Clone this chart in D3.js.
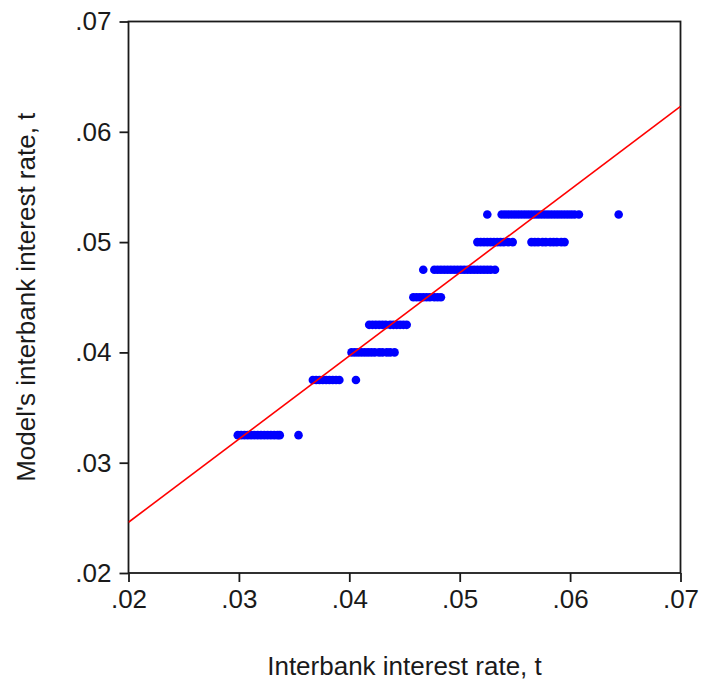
<!DOCTYPE html>
<html>
<head>
<meta charset="utf-8">
<script src="https://cdn.jsdelivr.net/npm/d3@7"></script>
<style>
  body { margin: 0; background: #fff; }
  text { font-family: "Liberation Sans", Arial, sans-serif; fill: #1a1a1a; }
</style>
</head>
<body>
<div id="chart"></div>
<script>
// axis ticks
var tickValues = [0.02, 0.03, 0.04, 0.05, 0.06, 0.07];
var tickLabels = [".02", ".03", ".04", ".05", ".06", ".07"];

// model rate levels (y) and the actual rates (x) seen at each level
var levels = [0.0325, 0.0375, 0.04, 0.0425, 0.045, 0.0475, 0.05, 0.0525];
var x0325 = [0.0299, 0.0302, 0.0305, 0.0308, 0.0311, 0.0314, 0.0317, 0.0320, 0.0323, 0.0326, 0.0329, 0.0332, 0.0335, 0.0337, 0.0354];
var x0375 = [0.0367, 0.0370, 0.0373, 0.0376, 0.0379, 0.0382, 0.0385, 0.0388, 0.0391, 0.0406];
var x0400 = [0.0402, 0.0405, 0.0408, 0.0411, 0.0414, 0.0417, 0.0420, 0.0423, 0.0427, 0.0430, 0.0434, 0.0437, 0.0441];
var x0425 = [0.0418, 0.0421, 0.0424, 0.0427, 0.0430, 0.0433, 0.0437, 0.0440, 0.0443, 0.0446, 0.0449, 0.0452];
var x0450 = [0.0458, 0.0461, 0.0464, 0.0467, 0.0470, 0.0473, 0.0477, 0.0480, 0.0483];
var x0475 = [0.0467, 0.0477, 0.0480, 0.0483, 0.0486, 0.0489, 0.0492, 0.0495, 0.0498, 0.0501, 0.0504, 0.0507, 0.0510, 0.0513, 0.0516, 0.0519, 0.0522, 0.0525, 0.0528, 0.0532];
var x0500 = [0.0516, 0.0519, 0.0522, 0.0525, 0.0528, 0.0531, 0.0534, 0.0537, 0.0540, 0.0544, 0.0548, 0.0565, 0.0568, 0.0571, 0.0575, 0.0578, 0.0582, 0.0585, 0.0588, 0.0592, 0.0595];
var x0525 = [0.0525, 0.0538, 0.0541, 0.0544, 0.0547, 0.0550, 0.0553, 0.0556, 0.0559, 0.0562, 0.0565, 0.0568, 0.0571, 0.0574, 0.0577, 0.0580, 0.0583, 0.0586, 0.0589, 0.0592, 0.0595, 0.0598, 0.0601, 0.0604, 0.0608, 0.0644];

// fitted line end points
var fitX = [0.02, 0.07];
var fitY = [0.0246, 0.0623];

var rows = [x0325, x0375, x0400, x0425, x0450, x0475, x0500, x0525];
var points = [];
rows.forEach(function(xs, i) {
	xs.forEach(function(x) { points.push({x: x, y: levels[i]}); });
});

var width = 701, height = 685;
var pLeft = 128.5, pRight = 680.5, pTop = 21.5, pBottom = 573;

var svg = d3.select("#chart").append("svg")
	.attr("width", width)
	.attr("height", height);

var x = d3.scaleLinear().domain([0.02, 0.07]).range([pLeft, pRight]);
var y = d3.scaleLinear().domain([0.02, 0.07]).range([pBottom, pTop]);

// plot box
svg.append("rect")
	.attr("x", pLeft).attr("y", pTop)
	.attr("width", pRight - pLeft).attr("height", pBottom - pTop)
	.attr("fill", "none")
	.attr("stroke", "#1a1a1a")
	.attr("stroke-width", 1.8);

var fmt = function(d, i) { return tickLabels[i]; };

var yAxis = svg.append("g")
	.attr("transform", "translate(" + pLeft + ",0)")
	.call(d3.axisLeft(y).tickValues(tickValues).tickFormat(fmt).tickSize(9).tickSizeOuter(0).tickPadding(8));
var xAxis = svg.append("g")
	.attr("transform", "translate(0," + pBottom + ")")
	.call(d3.axisBottom(x).tickValues(tickValues).tickFormat(fmt).tickSize(9).tickSizeOuter(0).tickPadding(8));

[xAxis, yAxis].forEach(function(g) {
	g.select(".domain").remove();
	g.selectAll("line").attr("stroke", "#1a1a1a").attr("stroke-width", 1.8);
	g.selectAll("text").attr("font-size", "26px").attr("fill", "#1a1a1a")
		.attr("font-family", "Liberation Sans, Arial, sans-serif");
});

svg.append("clipPath").attr("id", "plotclip")
	.append("rect").attr("x", pLeft).attr("y", pTop)
	.attr("width", pRight - pLeft).attr("height", pBottom - pTop);

// scatter
svg.append("g")
	.selectAll("circle")
	.data(points)
	.enter().append("circle")
	.attr("cx", function(d) { return x(d.x); })
	.attr("cy", function(d) { return y(d.y); })
	.attr("r", 4.3)
	.attr("fill", "#0000ff");

// fitted line
svg.append("line")
	.attr("clip-path", "url(#plotclip)")
	.attr("x1", x(fitX[0])).attr("y1", y(fitY[0]))
	.attr("x2", x(fitX[1])).attr("y2", y(fitY[1]))
	.attr("stroke", "#ff0000")
	.attr("stroke-width", 1.6);

// axis titles
svg.append("text")
	.attr("x", (pLeft + pRight) / 2)
	.attr("y", 675)
	.attr("text-anchor", "middle")
	.attr("font-size", "26px")
	.text("Interbank interest rate, t");

svg.append("text")
	.attr("transform", "translate(35," + ((pTop + pBottom) / 2) + ") rotate(-90)")
	.attr("text-anchor", "middle")
	.attr("font-size", "26px")
	.text("Model's interbank interest rate, t");
</script>
</body>
</html>
